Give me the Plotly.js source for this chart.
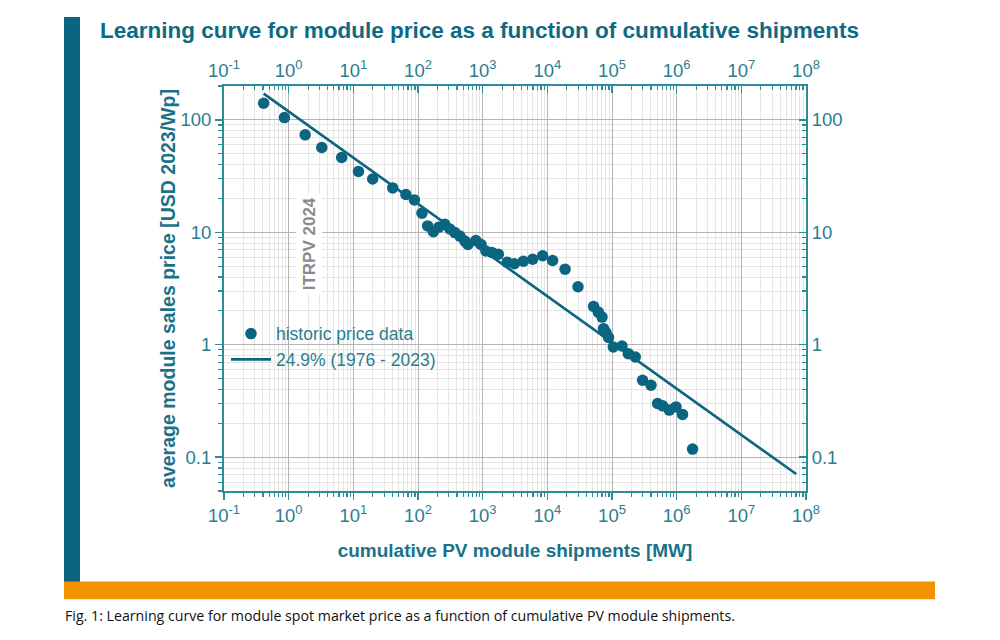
<!DOCTYPE html>
<html>
<head>
<meta charset="utf-8">
<script src="https://cdn.plot.ly/plotly-3.0.1.min.js"></script>
<style>
html,body{margin:0;padding:0;background:#fff;}
#chart{width:1000px;height:640px;}
</style>
</head>
<body>
<div id="chart"></div>
<script>
// historic price data: cumulative shipments [MW] and price [USD 2023/Wp]
const shipmentsMW = [0.41, 0.86, 1.8, 3.25, 6.6, 12.0, 19.9, 40.6, 65, 88,
  115, 141, 173, 210, 259, 311, 372, 444, 531, 591,
  785, 944, 1120, 1390, 1750, 2390, 3090, 4260, 5930, 8460,
  12070, 18800, 29800, 52000, 61400, 70000, 74100, 80700, 88500, 104700,
  142800, 178700, 229300, 297000, 400700, 507000, 605500, 769000, 975600, 1233000,
  1762000];
const priceUSD = [140.6, 104.8, 73.6, 56.7, 46.3, 34.8, 29.8, 24.8, 21.7, 19.4,
  14.8, 11.4, 10.1, 11.1, 11.8, 10.7, 9.94, 9.25, 8.35, 7.78,
  8.43, 7.78, 6.81, 6.61, 6.38, 5.41, 5.25, 5.53, 5.76, 6.18,
  5.61, 4.70, 3.28, 2.19, 1.95, 1.76, 1.39, 1.28, 1.16, 0.955,
  0.973, 0.833, 0.778, 0.483, 0.436, 0.300, 0.286, 0.262, 0.280, 0.240,
  0.118];
// learning-curve fit line (24.9 %), end points
const fitX = [0.41, 7.05e7];
const fitY = [171, 0.0708];

// tick labels
const xTickVals = [0.1, 1, 10, 100, 1e3, 1e4, 1e5, 1e6, 1e7, 1e8];
const xTickText = ["10<sup>-1</sup>", "10<sup>0</sup>", "10<sup>1</sup>", "10<sup>2</sup>", "10<sup>3</sup>",
  "10<sup>4</sup>", "10<sup>5</sup>", "10<sup>6</sup>", "10<sup>7</sup>", "10<sup>8</sup>"];
const yTickVals = [0.1, 1, 10, 100];
const yTickText = ["0.1", "1", "10", "100"];

const seriesNames = ["historic price data", "24.9% (1976 - 2023)"];

const TEAL = "#0b6580";
const AXIS = "#2a8d97";
const LABEL = "#2a7d90";
const TITLE_TEAL = "#1b7189";
const FONT = "Liberation Sans, Arial, sans-serif";
const xRange = [-1, 8];
const yRange = [Math.log10(0.05), Math.log10(200)];
const tickFont = {family: FONT, size: 18.5, color: LABEL};

const traces = [
  {x: shipmentsMW, y: priceUSD, type: "scatter", mode: "markers", name: seriesNames[0],
   marker: {color: TEAL, size: 11.5}, hoverinfo: "x+y"},
  {x: fitX, y: fitY, type: "scatter", mode: "lines", name: seriesNames[1],
   line: {color: TEAL, width: 2.6}},
  {x: fitX, y: fitY, xaxis: "x2", yaxis: "y2", type: "scatter", mode: "lines",
   line: {width: 0, color: "rgba(0,0,0,0)"}, showlegend: false, hoverinfo: "skip"}
];

const W = 582, H = 405.5, L = 224, B = 491.5;
const px = v => (v - L) / W;
const py = v => (B - v) / H;

const layout = {
  width: 1000, height: 640,
  margin: {l: 224, r: 194, t: 86, b: 148.5},
  paper_bgcolor: "#fff", plot_bgcolor: "#fff",
  font: {family: FONT, color: LABEL},
  title: {text: "<b>Learning curve for module price as a function of cumulative shipments</b>",
    font: {family: FONT, size: 22.5, color: "#0d6a85"},
    x: 0.1, xref: "container", xanchor: "left", y: 1 - 30/640, yref: "container", yanchor: "middle"},
  showlegend: true,
  legend: {x: px(226), y: py(316), xanchor: "left", yanchor: "top", bgcolor: "rgba(0,0,0,0)",
    font: {family: FONT, size: 17.5, color: LABEL},
    itemwidth: 40, tracegroupgap: 0},
  xaxis: {type: "log", range: xRange, tickmode: "array", tickvals: xTickVals, ticktext: xTickText,
    tickfont: tickFont, ticks: "outside", ticklen: 7, tickwidth: 1.5, tickcolor: AXIS,
    showline: true, linecolor: AXIS, linewidth: 2, zeroline: false,
    showgrid: true, gridcolor: "#b5b5b5", gridwidth: 1,
    minor: {dtick: "D1", ticks: "outside", ticklen: 4, tickwidth: 1.2, tickcolor: AXIS,
      showgrid: true, gridcolor: "#e5e5e5", gridwidth: 1},
    title: {text: "<b>cumulative PV module shipments [MW]</b>", standoff: 18,
      font: {family: FONT, size: 19, color: TITLE_TEAL}}},
  yaxis: {type: "log", range: yRange, tickmode: "array", tickvals: yTickVals, ticktext: yTickText,
    tickfont: tickFont, ticks: "outside", ticklen: 7, tickwidth: 1.5, tickcolor: AXIS,
    showline: true, linecolor: AXIS, linewidth: 2, zeroline: false,
    showgrid: true, gridcolor: "#b5b5b5", gridwidth: 1,
    minor: {dtick: "D1", ticks: "outside", ticklen: 4, tickwidth: 1.2, tickcolor: AXIS,
      showgrid: true, gridcolor: "#e5e5e5", gridwidth: 1},
    title: {text: "<b>average module sales price [USD 2023/Wp]</b>", standoff: 0,
      font: {family: FONT, size: 19.5, color: TITLE_TEAL}}},
  xaxis2: {type: "log", range: xRange, overlaying: "x", side: "top", anchor: "y2",
    tickmode: "array", tickvals: xTickVals, ticktext: xTickText, tickfont: tickFont,
    ticks: "inside", ticklen: 7, tickwidth: 1.5, tickcolor: AXIS,
    showline: true, linecolor: AXIS, linewidth: 2, showgrid: false, zeroline: false,
    minor: {dtick: "D1", ticks: "inside", ticklen: 4, tickwidth: 1.2, tickcolor: AXIS, showgrid: false}},
  yaxis2: {type: "log", range: yRange, overlaying: "y", side: "right", anchor: "x2",
    tickmode: "array", tickvals: yTickVals, ticktext: yTickText, tickfont: tickFont,
    ticks: "inside", ticklen: 7, tickwidth: 1.5, tickcolor: AXIS,
    showline: true, linecolor: AXIS, linewidth: 2, showgrid: false, zeroline: false,
    minor: {dtick: "D1", ticks: "inside", ticklen: 4, tickwidth: 1.2, tickcolor: AXIS, showgrid: false}},
  shapes: [
    {type: "rect", xref: "paper", yref: "paper", x0: px(64), x1: px(80), y0: py(583), y1: py(17),
     fillcolor: "#0b6482", line: {width: 0}, layer: "above"},
    {type: "rect", xref: "paper", yref: "paper", x0: px(64), x1: px(935), y0: py(600), y1: py(582),
     fillcolor: "#f39200", line: {width: 0}, layer: "above"}
  ],
  annotations: [
    {text: "<b>ITRPV 2024</b>", xref: "paper", yref: "paper", x: px(296), y: py(244),
     textangle: -90, showarrow: false, bgcolor: "#ffffff", borderpad: 3,
     font: {family: FONT, size: 17, color: "#8a8a8a"}},
    {text: "Fig. 1: Learning curve for module spot market price as a function of cumulative PV module shipments.",
     xref: "paper", yref: "paper", x: px(63), y: py(616), xanchor: "left", yanchor: "middle",
     showarrow: false, font: {family: "Open Sans, sans-serif", size: 14.2, color: "#111"}}
  ]
};

Plotly.newPlot("chart", traces, layout, {displayModeBar: false, staticPlot: true});
</script>
</body>
</html>
